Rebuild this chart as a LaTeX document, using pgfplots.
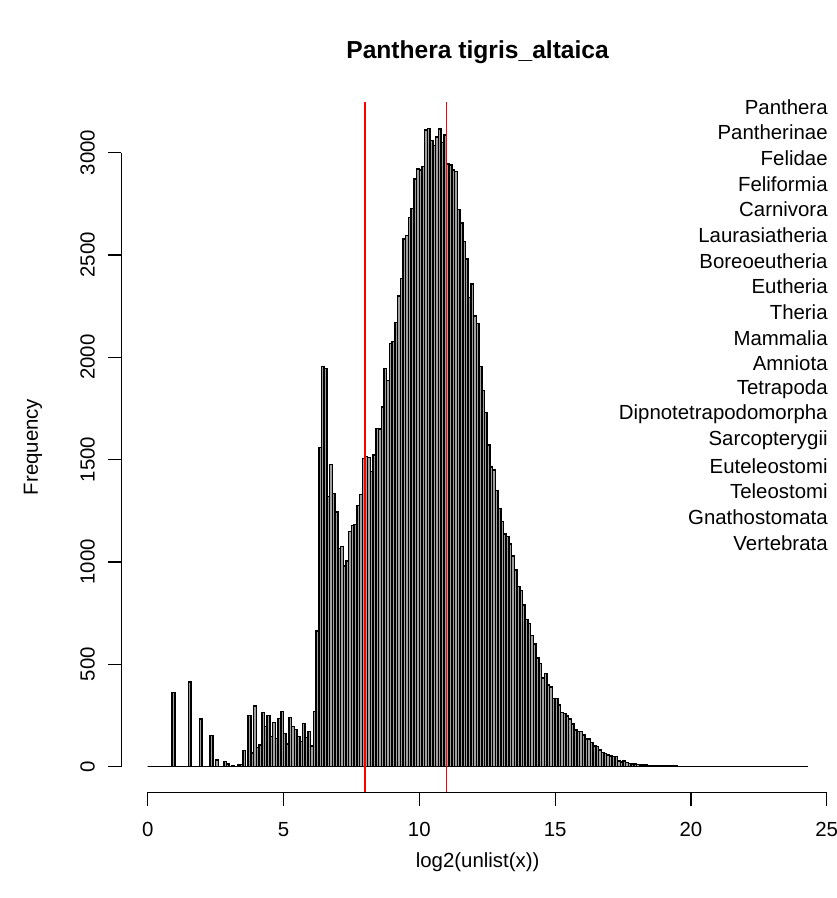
\documentclass[border=0pt]{standalone}
\usepackage{pgfplots}
\pgfplotsset{compat=1.18}
\usepackage{fontspec}
\setmainfont{Liberation Sans}
\definecolor{barfill}{HTML}{A0A0A0}
\newcommand{\rfont}{\fontsize{10.2}{12}\selectfont}
\begin{document}
\begin{tikzpicture}
\begin{axis}[
  at={(60.65pt,52.9pt)}, anchor=south west,
  scale only axis, width=356.4pt, height=344.85pt,
  xmin=-0.972, xmax=25.272, ymin=-124.8, ymax=3244.8,
  axis x line*=bottom, axis y line*=left,
  axis line style={draw=none},
  clip=false,
  tick align=outside, major tick length=6.75pt,
  tick style={black, line width=0.6pt},
  xtick={0,5,...,25}, ytick={0,500,...,3000},
  minor tick num=0,
  scaled ticks=false,
  /pgf/number format/1000 sep={},
  /pgf/number format/assume math mode=true,
  ticklabel style={font=\rfont},
  xticklabel style={yshift=-4.6pt},
  yticklabel style={rotate=90, anchor=south, yshift=2.9pt},
]
% histogram of log2 values, bins of 0.1 (left edge, count)
\addplot[ybar interval, fill=barfill, draw=black, line width=0.75pt] coordinates {
(0.0,0) (0.1,0) (0.2,0) (0.3,0) (0.4,0) (0.5,0) (0.6,0) (0.7,0) (0.8,0) (0.9,363)
(1.0,0) (1.1,0) (1.2,0) (1.3,0) (1.4,0) (1.5,414) (1.6,0) (1.7,0) (1.8,0) (1.9,233)
(2.0,0) (2.1,0) (2.2,0) (2.3,151) (2.4,0) (2.5,33) (2.6,0) (2.7,0) (2.8,24) (2.9,13)
(3.0,0) (3.1,6) (3.2,0) (3.3,8) (3.4,10) (3.5,78) (3.6,0) (3.7,249) (3.8,67) (3.9,296)
(4.0,94) (4.1,106) (4.2,265) (4.3,195) (4.4,249) (4.5,147) (4.6,216) (4.7,138) (4.8,236) (4.9,270)
(5.0,163) (5.1,111) (5.2,241) (5.3,195) (5.4,182) (5.5,147) (5.6,122) (5.7,212) (5.8,143) (5.9,171)
(6.0,102) (6.1,269) (6.2,663) (6.3,1560) (6.4,1955) (6.5,1945) (6.6,1320) (6.7,1475) (6.8,1335) (6.9,1245)
(7.0,1065) (7.1,1075) (7.2,980) (7.3,1005) (7.4,1150) (7.5,1178) (7.6,1183) (7.7,1275) (7.8,1330) (7.9,1505)
(8.0,1515) (8.1,1510) (8.2,1441) (8.3,1523) (8.4,1651) (8.5,1649) (8.6,1756) (8.7,1946) (8.8,1886) (8.9,2068)
(9.0,2076) (9.1,2170) (9.2,2300) (9.3,2386) (9.4,2578) (9.5,2595) (9.6,2682) (9.7,2728) (9.8,2870) (9.9,2919)
(10.0,2915) (10.1,2932) (10.2,3110) (10.3,3118) (10.4,3060) (10.5,3035) (10.6,3075) (10.7,3115) (10.8,3050) (10.9,3085)
(11.0,2945) (11.1,2940) (11.2,2915) (11.3,2907) (11.4,2723) (11.5,2655) (11.6,2565) (11.7,2479) (11.8,2293) (11.9,2359)
(12.0,2202) (12.1,2166) (12.2,1954) (12.3,1837) (12.4,1731) (12.5,1572) (12.6,1463) (12.7,1450) (12.8,1349) (12.9,1262)
(13.0,1197) (13.1,1137) (13.2,1124) (13.3,1088) (13.4,1030) (13.5,960) (13.6,880) (13.7,860) (13.8,790) (13.9,720)
(14.0,700) (14.1,640) (14.2,600) (14.3,530) (14.4,505) (14.5,432) (14.6,456) (14.7,399) (14.8,388) (14.9,334)
(15.0,334) (15.1,301) (15.2,265) (15.3,260) (15.4,247) (15.5,233) (15.6,208) (15.7,179) (15.8,171) (15.9,171)
(16.0,155) (16.1,134) (16.2,134) (16.3,119) (16.4,101) (16.5,98) (16.6,81) (16.7,70) (16.8,65) (16.9,57)
(17.0,52) (17.1,49) (17.2,49) (17.3,28) (17.4,23) (17.5,28) (17.6,20) (17.7,16) (17.8,14) (17.9,12)
(18.0,10) (18.1,9) (18.2,8) (18.3,7) (18.4,6) (18.5,6) (18.6,5) (18.7,4) (18.8,4) (18.9,3)
(19.0,3) (19.1,3) (19.2,2) (19.3,2) (19.4,2) (19.5,1) (19.6,1) (19.7,1) (19.8,1) (19.9,1)
(20.0,1) (20.1,0) (20.2,1) (20.3,0) (20.4,0) (20.5,1) (20.6,0) (20.7,0) (20.8,0) (20.9,0)
(21.0,0) (21.1,0) (21.2,0) (21.3,0) (21.4,0) (21.5,0) (21.6,0) (21.7,0) (21.8,0) (21.9,0)
(22.0,0) (22.1,0) (22.2,0) (22.3,0) (22.4,0) (22.5,0) (22.6,0) (22.7,0) (22.8,0) (22.9,0)
(23.0,0) (23.1,0) (23.2,0) (23.3,0) (23.4,0) (23.5,0) (23.6,0) (23.7,0) (23.8,0) (23.9,0)
(24.0,0) (24.1,0) (24.2,1) (24.3,0)
};
\addplot[red, line width=0.75pt] coordinates {(8,-124.8) (8,3244.8)};
\addplot[red, line width=0.75pt] coordinates {(11,-124.8) (11,3244.8)};
\draw[line width=0.6pt] (axis cs:0,-124.8) -- (axis cs:25,-124.8);
\draw[line width=0.6pt] (axis cs:-0.972,0) -- (axis cs:-0.972,3000);
\end{axis}
\node[font=\bfseries\fontsize{12.3}{14}\selectfont] at (238.8pt,423pt) {Panthera tigris\_altaica};
\node[font=\rfont] at (238.8pt,18pt) {log2(unlist(x))};
\node[font=\rfont, rotate=90] at (16.5pt,225.5pt) {Frequency};
\begin{scope}[every node/.style={font=\rfont, anchor=east, inner sep=0pt}]
\node at (414pt,395.5pt) {Panthera};
\node at (414pt,382.7pt) {Pantherinae};
\node at (414pt,369.9pt) {Felidae};
\node at (414pt,357.0pt) {Feliformia};
\node at (414pt,344.2pt) {Carnivora};
\node at (414pt,331.4pt) {Laurasiatheria};
\node at (414pt,318.6pt) {Boreoeutheria};
\node at (414pt,305.8pt) {Eutheria};
\node at (414pt,293.0pt) {Theria};
\node at (414pt,280.1pt) {Mammalia};
\node at (414pt,267.3pt) {Amniota};
\node at (414pt,254.5pt) {Tetrapoda};
\node at (414pt,241.7pt) {Dipnotetrapodomorpha};
\node at (414pt,228.9pt) {Sarcopterygii};
\node at (414pt,216.1pt) {Euteleostomi};
\node at (414pt,203.2pt) {Teleostomi};
\node at (414pt,190.4pt) {Gnathostomata};
\node at (414pt,177.6pt) {Vertebrata};
\end{scope}
\pgfresetboundingbox
\path (0,0) rectangle (418pt,449pt);
\end{tikzpicture}
\end{document}
